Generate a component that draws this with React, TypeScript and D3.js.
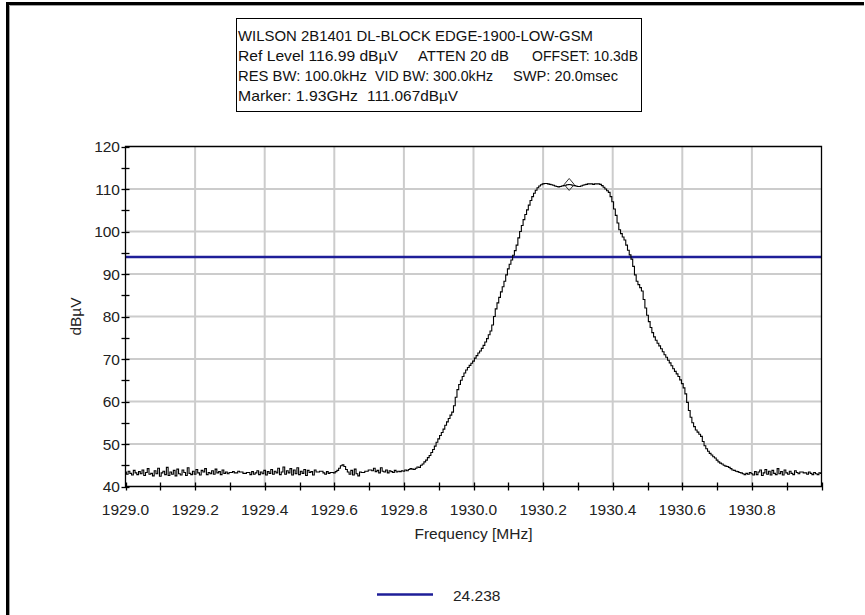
import { useEffect, useRef } from "react";
import * as d3 from "d3";

// sweep definition (401 points, 1929.000 .. 1931.000 MHz)
const sweepStartMHz = 1929.0;
const sweepStepMHz = 0.005;

// noise floor below the carrier, 1929.000 .. 1929.825 MHz
const traceLow = [
  43.4, 42.9, 43.6, 43.1, 42.7, 43.8, 43.2, 42.8, 43.5, 43.0,
  43.9, 42.6, 43.3, 44.2, 42.9, 43.1, 42.5, 43.7, 43.0, 44.3,
  42.4, 43.2, 43.6, 42.8, 44.5, 42.6, 43.4, 42.9, 43.8, 42.5,
  44.1, 43.0, 42.7, 43.9, 43.3, 42.6, 44.4, 43.1, 42.8, 43.6,
  42.9, 44.0, 43.2, 42.7, 43.8, 43.4, 44.2, 42.8, 43.3, 43.0,
  43.7, 42.9, 44.1, 43.2, 43.5, 42.8, 43.9, 43.1, 43.4, 43.0,
  43.3, 43.3, 43.5, 43.2, 43.2, 43.6, 43.4, 43.4, 43.1, 43.1,
  43.3, 43.3, 42.8, 43.5, 42.9, 43.2, 43.7, 42.8, 43.4, 43.0,
  43.8, 42.7, 43.5, 43.1, 44.0, 42.9, 43.6, 43.2, 44.3, 42.8,
  43.4, 44.6, 42.9, 43.7, 43.2, 44.2, 42.7, 43.9, 43.0, 44.4,
  42.8, 43.6, 43.1, 44.0, 42.6, 43.8, 43.3, 43.5, 42.7, 43.9,
  43.4, 43.4, 43.6, 43.6, 43.2, 42.9, 43.5, 43.1, 43.3, 43.3,
  43.2, 43.5, 43.8, 44.3, 44.9, 45.1, 44.7, 44.0, 43.4, 42.9,
  43.8, 42.7, 44.1, 43.0, 42.5, 43.4, 43.3, 43.3, 43.6, 43.6,
  43.9, 43.9, 43.7, 44.3, 43.5, 43.8, 43.2, 44.4, 43.6, 43.4,
  43.9, 43.2, 43.7, 43.5, 43.3, 43.8, 43.4, 43.6, 43.5, 43.7,
  43.6, 43.9, 43.7, 44.0, 44.2, 44.1,
];

// carrier, 1929.830 .. 1930.765 MHz
const traceBand = [
  44.0, 44.3, 44.6, 44.5, 45.0, 45.3, 45.8, 46.2, 46.8, 47.3,
  48.0, 48.7, 49.5, 50.4, 51.2, 52.0, 52.7, 53.5, 54.4, 55.2,
  56.0, 56.8, 57.5, 59.0, 61.0, 62.8, 64.0, 65.0, 65.9, 66.7,
  67.4, 68.0, 68.5, 69.0, 69.5, 70.2, 70.8, 71.4, 71.9, 72.5,
  73.2, 74.0, 74.8, 75.7, 76.6, 78.0, 80.0, 81.8, 83.2, 84.5,
  85.8, 87.0, 88.3, 89.8, 91.2, 92.3, 93.3, 94.4, 95.5, 96.8,
  98.5, 100.0, 101.4, 102.8, 104.0, 105.1, 106.2, 107.3, 108.2, 109.0,
  109.7, 110.3, 110.7, 111.0, 111.2, 111.3, 111.3, 111.2, 111.1, 111.0,
  110.9, 110.7, 110.6, 110.5, 110.6, 110.7, 110.8, 110.9, 111.0, 111.07,
  111.0, 110.9, 110.8, 110.7, 110.6, 110.6, 110.7, 110.9, 111.0, 111.1,
  111.2, 111.2, 111.2, 111.1, 111.2, 111.2, 111.2, 111.1, 110.8, 110.4,
  110.0, 109.6, 109.2, 108.2, 107.0, 105.3, 103.8, 102.0, 100.4, 99.5,
  98.7, 98.0, 96.8, 95.6, 94.5, 93.5, 91.8, 89.8, 88.3, 87.5,
  86.8, 86.0, 84.0, 82.0, 80.3, 78.8, 77.4, 76.2, 75.2, 74.4,
  73.7, 73.1, 72.4, 71.7, 71.0, 70.4, 69.7, 69.1, 68.4, 67.7,
  67.1, 66.5, 65.9, 65.1, 64.2, 63.2, 61.8, 59.8, 57.9, 56.3,
  55.0, 54.1, 53.3, 52.8, 52.3, 51.8, 50.6, 49.6, 48.9, 48.3,
  47.8, 47.4, 47.0, 46.7, 46.2, 45.8, 45.5, 45.3, 45.0, 44.8,
  44.7, 44.5, 44.2, 43.9, 43.8, 43.6, 43.5, 43.3,
];

// noise floor above the carrier, 1930.770 .. 1931.000 MHz
const traceHigh = [
  43.2, 43.0, 42.8, 43.1, 42.9, 43.3, 43.0, 42.7, 43.5, 42.8,
  43.4, 43.9, 42.6, 43.2, 44.0, 42.9, 43.6, 42.7, 43.8, 43.1,
  42.8, 44.2, 43.0, 43.5, 42.7, 43.9, 43.2, 42.9, 43.6, 43.1,
  42.8, 43.7, 43.3, 43.0, 43.4, 43.4, 43.2, 43.2, 42.9, 43.4,
  43.1, 42.8, 43.3, 43.0, 42.8, 43.2, 43.1,
];

const xTickLabels = [1929.0, 1929.2, 1929.4, 1929.6, 1929.8, 1930.0, 1930.2, 1930.4, 1930.6, 1930.8];
const xMinorTicks = [1929.1, 1929.3, 1929.5, 1929.7, 1929.9, 1930.1, 1930.3, 1930.5, 1930.7, 1930.9, 1931.0];
const yTickLabels = [40, 50, 60, 70, 80, 90, 100, 110, 120];
const yMinorTicks = [45, 55, 65, 75, 85, 95, 105, 115];

const limitLevel = 94.0;
const limitLegend = "24.238";
const markerFreq = 1930.275;
const markerLevel = 111.067;

const headerLines = [
  ["WILSON 2B1401 DL-BLOCK EDGE-1900-LOW-GSM"],
  ["Ref Level 116.99 dBµV", "ATTEN 20 dB", "OFFSET: 10.3dB"],
  ["RES BW: 100.0kHz", "VID BW: 300.0kHz", "SWP: 20.0msec"],
  ["Marker: 1.93GHz", "111.067dBµV"],
];

const W = 865;
const H = 615;
const FONT = "'Liberation Sans', Arial, sans-serif";

export default function App() {
  const ref = useRef<SVGSVGElement | null>(null);

  useEffect(() => {
    if (!ref.current) return;
    const svg = d3.select(ref.current);
    svg.selectAll("*").remove();

    const values = [...traceLow, ...traceBand, ...traceHigh];
    const trace = values.map((v, i) => ({ f: sweepStartMHz + i * sweepStepMHz, v }));

    const x = d3.scaleLinear().domain([1929.0, 1931.0]).range([125.5, 821.5]);
    const y = d3.scaleLinear().domain([40, 120]).range([486.5, 146.5]);
    const [x0, x1] = x.range();
    const [y0, y1] = y.range();

    svg.append("rect").attr("width", W).attr("height", H).attr("fill", "#fff");

    // window frame
    svg.append("path")
      .attr("d", `M7.5,${H} V3.5 H864`)
      .attr("fill", "none").attr("stroke", "#000").attr("stroke-width", 3);
    svg.append("path")
      .attr("d", `M9.5,${H} V5.5 H864`)
      .attr("fill", "none").attr("stroke", "#a0a0a0").attr("stroke-width", 1);

    // header box
    svg.append("rect")
      .attr("x", 236.5).attr("y", 18.5).attr("width", 405).attr("height", 93)
      .attr("fill", "#fff").attr("stroke", "#000");
    const segX = [[238], [238, 418, 532], [238, 375, 513], [238, 367]];
    const segW = [[355], [160, 91, 106], [129, 118, 105], [120, 91]];
    headerLines.forEach((line, li) => {
      line.forEach((txt, si) => {
        svg.append("text")
          .attr("x", segX[li][si]).attr("y", 40.5 + li * 20)
          .attr("textLength", segW[li][si]).attr("lengthAdjust", "spacingAndGlyphs")
          .style("font-family", FONT).style("font-size", "15px").style("fill", "#111")
          .text(txt);
      });
    });

    // grid
    const grid = svg.append("g").attr("stroke", "#cccccc").attr("stroke-width", 2);
    grid.selectAll(".gx").data(xTickLabels.slice(1)).enter().append("line")
      .attr("x1", (d) => x(d)).attr("x2", (d) => x(d)).attr("y1", y1).attr("y2", y0);
    grid.selectAll(".gy").data(yTickLabels.slice(1, -1)).enter().append("line")
      .attr("x1", x0).attr("x2", x1).attr("y1", (d) => y(d)).attr("y2", (d) => y(d));

    // limit line
    svg.append("line")
      .attr("x1", x0).attr("x2", x1).attr("y1", y(limitLevel)).attr("y2", y(limitLevel))
      .attr("stroke", "#1e1e98").attr("stroke-width", 2.6);

    // trace (analyzer draws it as a stair line)
    const line = d3.line<{ f: number; v: number }>()
      .x((d) => x(d.f)).y((d) => y(d.v))
      .curve(d3.curveStep);
    svg.append("path").datum(trace)
      .attr("d", line)
      .attr("fill", "none").attr("stroke", "#000").attr("stroke-width", 1.1);

    // marker
    const mx = x(markerFreq);
    const my = y(markerLevel);
    svg.append("path")
      .attr("d", `M${mx},${my - 6} L${mx + 5},${my} L${mx},${my + 6} L${mx - 5},${my} Z`)
      .attr("fill", "none").attr("stroke", "#333").attr("stroke-width", 1);

    // plot frame + axes
    svg.append("path")
      .attr("d", `M${x0},${y0} V${y1} H${x1} V${y0} Z`)
      .attr("fill", "none").attr("stroke", "#000").attr("stroke-width", 1.3);

    const ticks = svg.append("g").attr("stroke", "#000").attr("stroke-width", 1.3);
    ticks.selectAll(".tx").data([...xTickLabels, ...xMinorTicks]).enter().append("line")
      .attr("x1", (d) => Math.round(x(d)) + 0.5).attr("x2", (d) => Math.round(x(d)) + 0.5)
      .attr("y1", y0 - 4).attr("y2", y0 + 4);
    ticks.selectAll(".ty").data([...yTickLabels, ...yMinorTicks]).enter().append("line")
      .attr("x1", x0 - 4).attr("x2", x0 + 4)
      .attr("y1", (d) => Math.round(y(d)) + 0.5).attr("y2", (d) => Math.round(y(d)) + 0.5);

    svg.append("g").selectAll("text").data(xTickLabels).enter().append("text")
      .attr("x", (d) => x(d)).attr("y", 515)
      .attr("text-anchor", "middle")
      .style("font-family", FONT).style("font-size", "15.5px").style("fill", "#222")
      .text((d) => d.toFixed(1));

    svg.append("g").selectAll("text").data(yTickLabels).enter().append("text")
      .attr("x", 120).attr("y", (d) => y(d) + 5.5)
      .attr("text-anchor", "end")
      .style("font-family", FONT).style("font-size", "15.5px").style("fill", "#222")
      .text((d) => d);

    svg.append("text")
      .attr("x", (x0 + x1) / 2).attr("y", 539)
      .attr("text-anchor", "middle")
      .style("font-family", FONT).style("font-size", "15.5px").style("fill", "#222")
      .text("Frequency [MHz]");

    svg.append("text")
      .attr("transform", `translate(81,${(y0 + y1) / 2}) rotate(-90)`)
      .attr("text-anchor", "middle")
      .style("font-family", FONT).style("font-size", "15.5px").style("fill", "#222")
      .text("dBµV");

    // legend
    svg.append("line")
      .attr("x1", 377).attr("x2", 433).attr("y1", 594.5).attr("y2", 594.5)
      .attr("stroke", "#1e1e98").attr("stroke-width", 2.6);
    svg.append("text")
      .attr("x", 453).attr("y", 600.5)
      .style("font-family", FONT).style("font-size", "15.5px").style("fill", "#222")
      .text(limitLegend);
  }, []);

  return (
    <svg
      ref={ref}
      width={W}
      height={H}
      style={{ position: "absolute", left: 0, top: 0, display: "block" }}
    />
  );
}
